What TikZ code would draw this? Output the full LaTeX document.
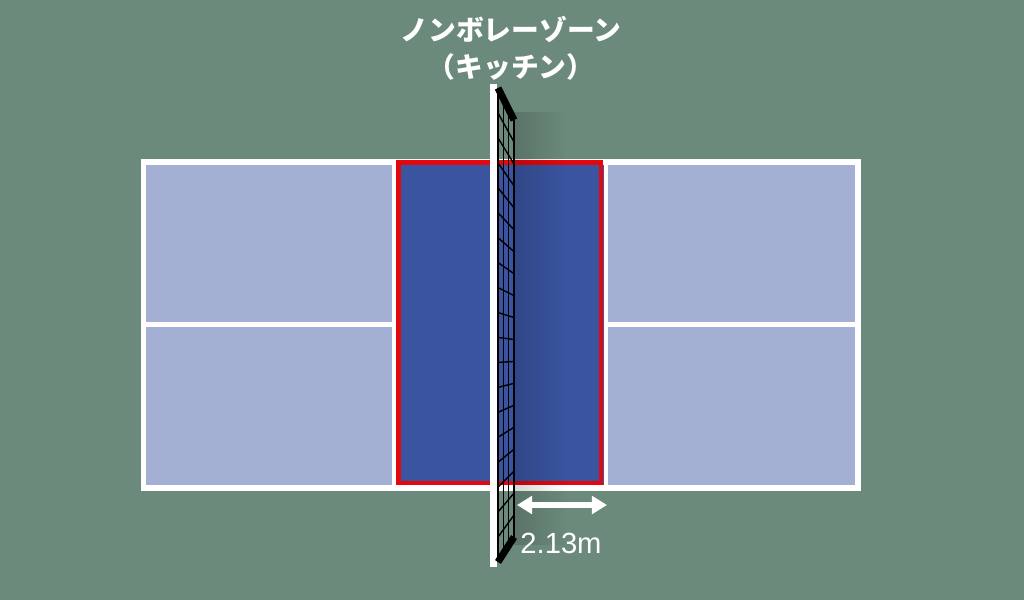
\documentclass[tikz,border=0pt]{standalone}
\usepackage{fontspec}
\usepackage{xcolor}
\usepackage{tikz}
\usetikzlibrary{arrows.meta}
\usetikzlibrary{positioning}
\usetikzlibrary{fadings}
\newfontfamily\jpfont{Noto Sans CJK JP}
\newfontfamily\numfont{Liberation Sans}
\definecolor{bgGreen}{RGB}{107,138,123}
\definecolor{courtLight}{RGB}{163,175,211}
\definecolor{kitchenBlue}{RGB}{58,84,160}
\definecolor{zoneRed}{RGB}{226,8,14}

\begin{document}
\begin{tikzpicture}[x=0.01cm, y=-0.01cm,
	courtline/.style={draw=white, line width=1.7pt},
	innerline/.style={draw=white, line width=1.4pt},
	netline/.style={draw=black, line width=0.4pt},
	netrail/.style={draw=black, line width=2pt},
	titletext/.style={text=white, font=\jpfont\bfseries\fontsize{7.9}{10.6}\selectfont, align=center},
	sizetext/.style={text=white, font=\numfont\fontsize{8.3}{10}\selectfont}]
	\newcommand\netLeft{498}
	\newcommand\netRight{514}
	% background and court
	\fill[bgGreen] (0,0) rectangle (1024,600);
	\useasboundingbox (0,0) rectangle (1024,600);
	\fill[courtLight] (143.5,162) rectangle (858,488);
	\fill[kitchenBlue] (394,162) rectangle (606,488);
	\draw[innerline] (143.5,324.5) -- (394,324.5);
	\draw[innerline] (606,324.5) -- (858,324.5);
	\draw[innerline] (394,162) -- (394,488);
	\draw[innerline] (606,162) -- (606,488);
	\draw[courtline] (143.5,162) rectangle (858,488);
	\draw[draw=zoneRed, line width=1.3pt] (398.5,162.5) rectangle (601,483);
	% shadow of the net
	\fill[black, opacity=0.16, path fading=east] (514,112) rectangle (566,545);
	% post and net
	\fill[white] (490,84) rectangle (497,567);
	\foreach \i in {0,...,19}
		\draw[netline] (\netLeft,{88+\i*474/19}) -- (\netRight,{120+\i*417/19});
	\foreach \j in {0,...,3}
		\draw[netline] ({\netLeft+\j*16/3},{88+\j*32/3}) -- ({\netLeft+\j*16/3},{562-\j*25/3});
	\draw[netrail] (\netLeft,88) -- (\netRight,120);
	\draw[netrail] (\netLeft,562) -- (\netRight,537);
	% distance arrow
	\coordinate (arrowL) at (517,505);
	\coordinate (arrowR) at (607,505);
	\draw[white, line width=1.7pt, {Triangle[length=4.3pt,width=5pt]}-{Triangle[length=4.3pt,width=5pt]}] (arrowL) -- (arrowR);
	\node[sizetext] (width) at (561,543) {2.13m};
	% title
	\node[titletext] (title) at (511,48) {ノンボレーゾーン\\（キッチン）};
\end{tikzpicture}
\end{document}
